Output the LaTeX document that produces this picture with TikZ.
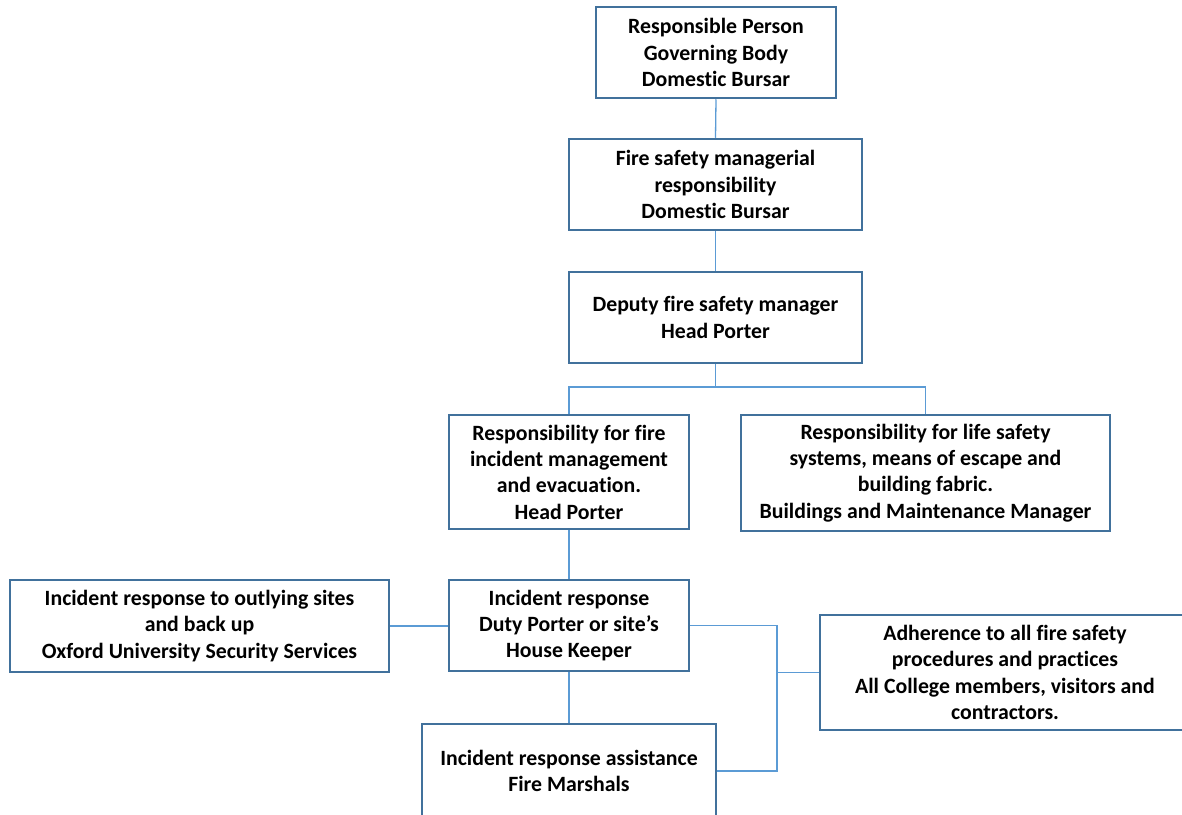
\documentclass[tikz,border=0pt]{standalone}
\usepackage{fontspec}
\setmainfont{Carlito}[Ligatures=NoCommon]
\definecolor{boxc}{HTML}{41719C}
\definecolor{linec}{HTML}{5B9BD5}
\tikzset{
  orgbox/.style={draw=boxc, line width=2.5pt, fill=white, align=center, inner sep=0pt,
    font=\fontsize{21.8}{26.3}\selectfont\bfseries},
  conn/.style={draw=linec, line width=1.3pt}
}
\begin{document}
\begin{tikzpicture}[x=1pt,y=-1pt]
\useasboundingbox (0,0) rectangle (1182,814);
\clip (0,0) rectangle (1182,814);
\node[orgbox, minimum width=240pt, minimum height=91pt] (b1) at (716,52.5) {Responsible Person\\Governing Body\\Domestic Bursar};
\node[orgbox, minimum width=293pt, minimum height=91pt] (b2) at (715.5,184.5) {Fire safety managerial\\responsibility\\Domestic Bursar};
\node[orgbox, minimum width=293pt, minimum height=91pt] (b3) at (715.5,317.5) {Deputy fire safety manager\\Head Porter};
\node[orgbox, minimum width=240pt, minimum height=114pt] (b4) at (569,472) {Responsibility for fire\\incident management\\and evacuation.\\Head Porter};
\node[orgbox, minimum width=369pt, minimum height=116pt] (b5) at (925.5,473) {Responsibility for life safety\\systems, means of escape and\\building fabric.\\Buildings and Maintenance Manager};
\node[orgbox, minimum width=240pt, minimum height=91pt] (b6) at (569,625.5) {Incident response\\Duty Porter or site’s\\House Keeper};
\node[orgbox, minimum width=379pt, minimum height=92pt] (b7) at (199.5,626) {Incident response to outlying sites\\and back up\\Oxford University Security Services};
\node[orgbox, minimum width=294pt, minimum height=94pt] (b8) at (569,771) {Incident response assistance\\Fire Marshals};
\node[orgbox, minimum width=370pt, minimum height=115pt] (b9) at (1005,672.5) {Adherence to all fire safety\\procedures and practices\\All College members, visitors and\\contractors.};
\coordinate (j1) at (716,387);
\coordinate (jx) at (777,700);
\draw[conn] (b1.south) -- (b2.north);
\draw[conn] (b2.south) -- (b3.north);
\draw[conn] (b3.south) -- (b3.south |- j1);
\draw[conn] (b4.north) |- (j1) -| (b5.north);
\draw[conn] (b4.south) -- (b6.north);
\draw[conn] (b7.east) -- (b7.east -| b6.west);
\draw[conn] (b6.south) -- (b8.north);
\draw[conn] (b6.east) -| (jx |- b8.east) -- (b8.east);
\draw[conn] (jx |- b9.west) -- (b9.west);
\end{tikzpicture}
\end{document}
